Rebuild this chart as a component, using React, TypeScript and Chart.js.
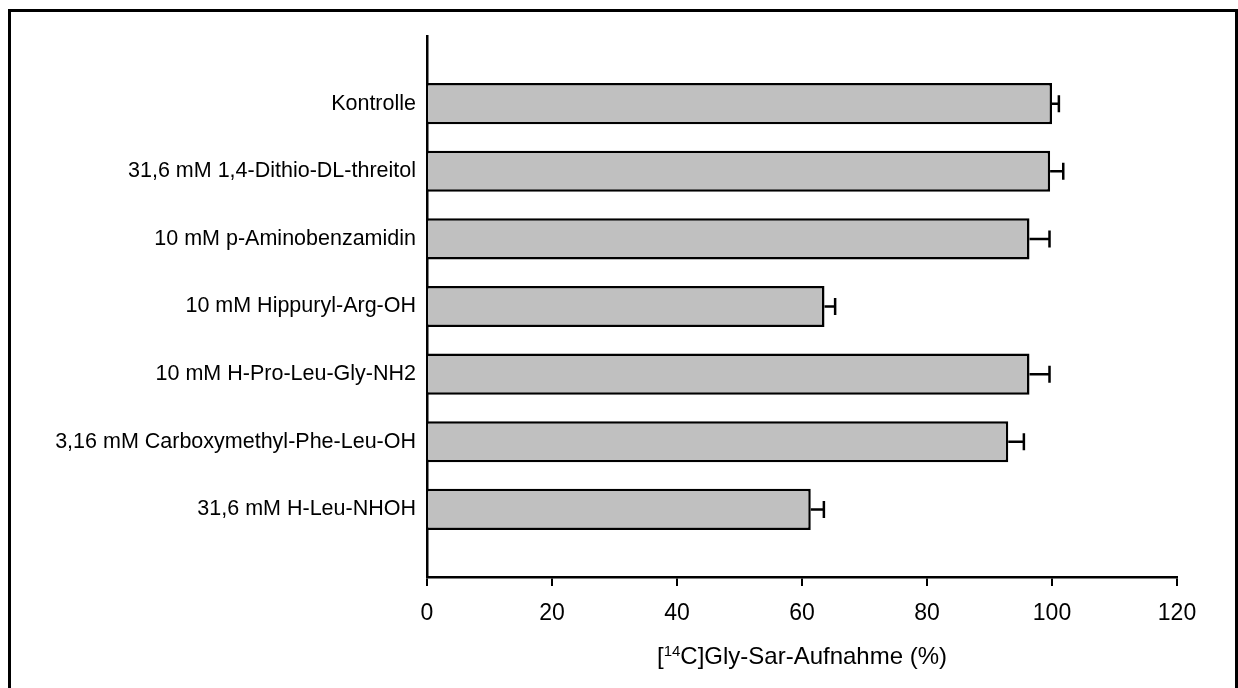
import React, { useEffect, useRef } from "react";
import { Chart, registerables } from "chart.js";

Chart.register(...registerables);

const categories = [
  "Kontrolle",
  "31,6 mM 1,4-Dithio-DL-threitol",
  "10 mM p-Aminobenzamidin",
  "10 mM Hippuryl-Arg-OH",
  "10 mM H-Pro-Leu-Gly-NH2",
  "3,16 mM Carboxymethyl-Phe-Leu-OH",
  "31,6 mM H-Leu-NHOH",
];
const uptake = [100, 99.7, 96.4, 63.6, 96.4, 93.0, 61.4];
const errors = [1.1, 2.1, 3.2, 1.7, 3.2, 2.5, 2.1];
const xMin = 0;
const xMax = 120;
const xStep = 20;
const titlePre = "[";
const titleSup = "14";
const titlePost = "C]Gly-Sar-Aufnahme (%)";

const FONT = 'Arial, "Liberation Sans", sans-serif';

export default function App() {
  const ref = useRef<HTMLCanvasElement | null>(null);

  useEffect(() => {
    const canvas = ref.current;
    if (!canvas) return;
    const labels = ["", ...categories, ""];
    const values = [null, ...uptake, null];
    const errs = [null, ...errors, null];

    const errorBars = {
      id: "errorBars",
      afterDatasetsDraw(chart: any) {
        const ctx = chart.ctx;
        const xs = chart.scales.x;
        const meta = chart.getDatasetMeta(0);
        ctx.save();
        ctx.strokeStyle = "#000";
        ctx.lineWidth = 2.5;
        meta.data.forEach((bar: any, i: number) => {
          const v = values[i];
          const e = errs[i];
          if (v == null || e == null) return;
          const x0 = xs.getPixelForValue(v);
          const x1 = xs.getPixelForValue(v + e);
          const y = bar.y;
          ctx.beginPath();
          ctx.moveTo(x0, y);
          ctx.lineTo(x1, y);
          ctx.moveTo(x1, y - 8.5);
          ctx.lineTo(x1, y + 8.5);
          ctx.stroke();
        });
        ctx.restore();
      },
    };

    const axisTitle = {
      id: "axisTitle",
      afterDraw(chart: any) {
        const ctx = chart.ctx;
        const area = chart.chartArea;
        const cx = (area.left + area.right) / 2;
        const base = 664;
        ctx.save();
        ctx.fillStyle = "#000";
        ctx.textBaseline = "alphabetic";
        ctx.textAlign = "left";
        const big = `24px ${FONT}`;
        const small = `15px ${FONT}`;
        ctx.font = big;
        const w1 = ctx.measureText(titlePre).width;
        const w3 = ctx.measureText(titlePost).width;
        ctx.font = small;
        const w2 = ctx.measureText(titleSup).width;
        let x = cx - (w1 + w2 + w3) / 2;
        ctx.font = big;
        ctx.fillText(titlePre, x, base);
        x += w1;
        ctx.font = small;
        ctx.fillText(titleSup, x, base - 8);
        x += w2;
        ctx.font = big;
        ctx.fillText(titlePost, x, base);
        ctx.restore();
      },
    };

    const chart = new Chart(canvas, {
      type: "bar",
      data: {
        labels,
        datasets: [
          {
            data: values as any,
            backgroundColor: "#c0c0c0",
            borderColor: "#000",
            borderWidth: 2.5,
            barPercentage: 0.607,
            categoryPercentage: 1,
          },
        ],
      },
      options: {
        indexAxis: "y",
        animation: false,
        responsive: false,
        devicePixelRatio: 1,
        layout: { padding: { top: 36, right: 61, left: 0, bottom: 0 } },
        plugins: {
          legend: { display: false },
          tooltip: { enabled: false },
          title: { display: false },
        },
        scales: {
          x: {
            type: "linear",
            position: "bottom",
            min: xMin,
            max: xMax,
            afterFit: (s: any) => {
              s.height = 111;
            },
            ticks: {
              stepSize: xStep,
              color: "#000",
              font: { family: FONT, size: 23 },
              padding: 14,
              maxRotation: 0,
            },
            grid: {
              display: true,
              drawOnChartArea: false,
              drawTicks: true,
              tickLength: 9,
              color: "#000",
              lineWidth: 2,
            },
            border: { display: true, color: "#000", width: 2.5 },
          },
          y: {
            type: "category",
            position: "left",
            offset: false,
            afterFit: (s: any) => {
              s.width = 427;
            },
            ticks: {
              color: "#000",
              font: { family: FONT, size: 21.5 },
              padding: 3,
              autoSkip: false,
            },
            grid: { display: false, offset: false },
            border: { display: true, color: "#000", width: 2.5 },
          },
        },
      },
      plugins: [errorBars, axisTitle],
    });
    return () => chart.destroy();
  }, []);

  return (
    <div
      style={{
        position: "fixed",
        left: 0,
        top: 0,
        width: 1238,
        height: 688,
        overflow: "hidden",
        background: "#fff",
      }}
    >
      <div
        style={{
          position: "absolute",
          left: 8,
          top: 9,
          width: 1230,
          height: 720,
          boxSizing: "border-box",
          border: "3px solid #000",
        }}
      />
      <canvas
        ref={ref}
        width={1238}
        height={688}
        style={{ position: "absolute", left: 0, top: 0, width: 1238, height: 688 }}
      />
    </div>
  );
}
